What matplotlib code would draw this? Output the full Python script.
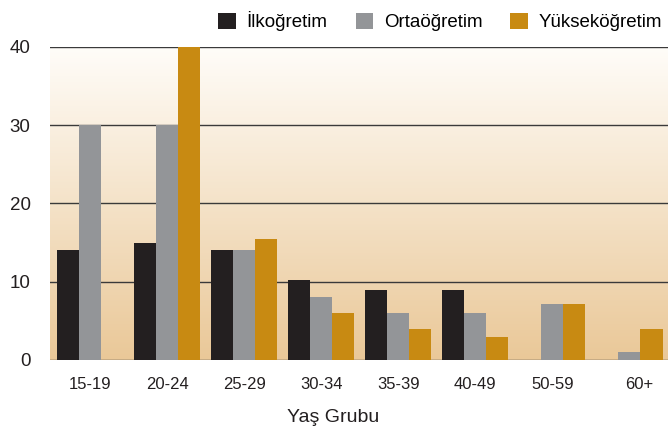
import numpy as np
import matplotlib
matplotlib.use("Agg")
import matplotlib.pyplot as plt
from matplotlib.colors import LinearSegmentedColormap
from matplotlib.patches import Patch
from matplotlib.transforms import ScaledTranslation

plt.rcParams['font.family'] = ['Liberation Sans', 'DejaVu Sans']

categories = ["15-19", "20-24", "25-29", "30-34", "35-39", "40-49", "50-59", "60+"]
series_names = ["İlkoğretim", "Ortaöğretim", "Yükseköğretim"]
ilk = [14, 15, 14, 10.2, 8.9, 8.9, 0, 0]
orta = [30, 30, 14, 8.1, 6, 6, 7.1, 1.05]
yuksek = [0, 40, 15.4, 6, 4, 3, 7.1, 4]
yticks = [0, 10, 20, 30, 40]
xlabel = "Yaş Grubu"

colors = ["#231F20", "#939598", "#C88A12"]

W, H = 668, 433
fig = plt.figure(figsize=(W / 100, H / 100), dpi=100)
ax = fig.add_axes([50 / W, (H - 360) / H, (668 - 50) / W, (360 - 47) / H])

x = np.arange(len(categories))
bw = 0.286
ax.set_xlim(-0.52, 7.5)
ax.set_ylim(0, 40)

# gradient background
cmap = LinearSegmentedColormap.from_list("bg", ["#EAC898", "#FFFDF9"])
grad = np.linspace(0, 1, 256).reshape(-1, 1)
ax.imshow(grad, extent=[-0.52, 7.5, 0, 40], origin="lower", aspect="auto",
          cmap=cmap, zorder=0)

for yv in yticks:
    ax.axhline(yv, color="#3a3a3a", lw=1.0, zorder=1)

for i, (vals, c) in enumerate(zip([ilk, orta, yuksek], colors)):
    ax.bar(x + (i - 1) * bw, vals, width=bw, color=c, zorder=2, linewidth=0)

for s in ax.spines.values():
    s.set_visible(False)

ax.set_xticks(x)
ax.set_xticklabels(categories, fontsize=12, color="#231F20")
ax.set_yticks(yticks)
ax.set_yticklabels([str(v) for v in yticks], fontsize=13.5, color="#231F20")
ax.tick_params(axis="x", length=0, pad=12)
ax.tick_params(axis="y", length=0, pad=14)
# last label sits a little right of its group in the reference
last = ax.get_xticklabels()[-1]
last.set_transform(last.get_transform() + ScaledTranslation(10 / 100, 0, fig.dpi_scale_trans))

fig.text(333 / W, 1 - 418 / H, xlabel, ha="center", va="center",
         fontsize=14, color="#231F20")

handles = [Patch(facecolor=c, edgecolor="none") for c in colors]
fig.legend(handles, series_names, loc="upper right", bbox_to_anchor=(1.008, 1.0),
           ncol=3, frameon=False, fontsize=13.5, handlelength=0.95, handleheight=0.95,
           handletextpad=0.55, columnspacing=1.5, borderaxespad=0.2)

fig.savefig("out.png", dpi=100)
